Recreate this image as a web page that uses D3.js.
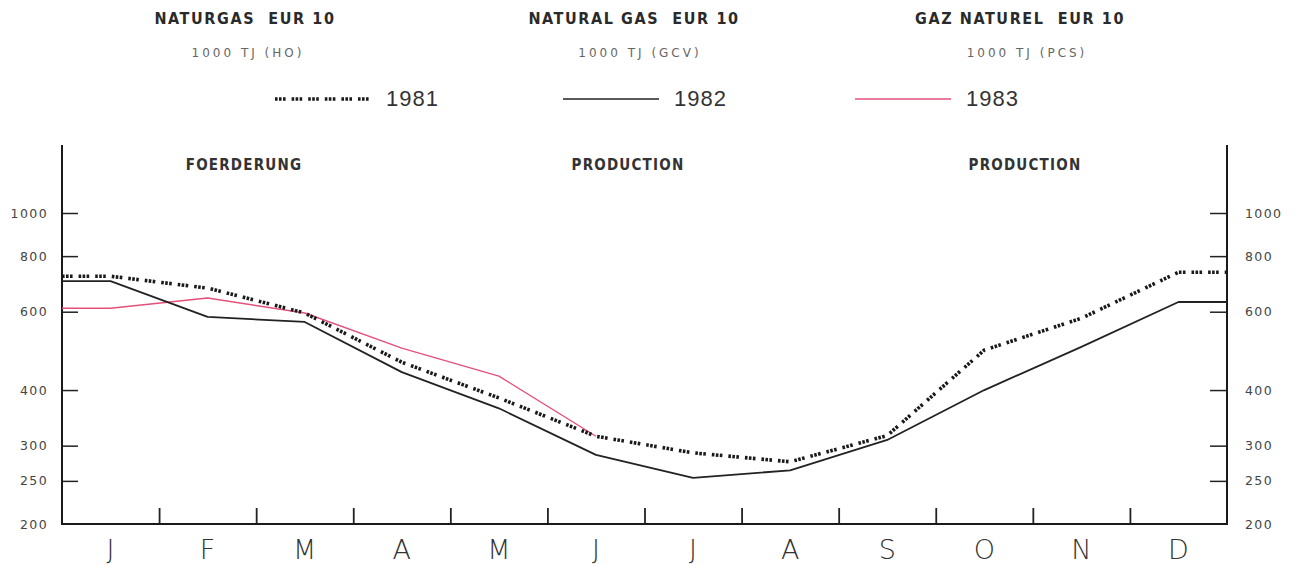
<!DOCTYPE html>
<html><head><meta charset="utf-8">
<script src="https://cdn.jsdelivr.net/npm/d3@7"></script>
<style>
body{margin:0;background:#fff;}
svg{display:block;}
</style></head><body>
<svg id="chart" width="1293" height="564"></svg>
<script>
const months = ["J","F","M","A","M","J","J","A","S","O","N","D"];
const yTicks = [200,250,300,400,600,800,1000];
const years = ["1981","1982","1983"];
const values1981 = [721,678,596,462,384,315,289,276,316,492,580,736];
const values1982 = [703,584,569,439,364,286,254,264,309,400,500,631];
const values1983 = [611,644,596,497,430,315];
const titles = ["NATURGAS  EUR 10","NATURAL GAS  EUR 10","GAZ NATUREL  EUR 10"];
const units = ["1000 TJ (HO)","1000 TJ (GCV)","1000 TJ (PCS)"];
const sections = ["FOERDERUNG","PRODUCTION","PRODUCTION"];

(function(){
const svg = d3.select("#chart");
const mLeft = 62, mRight = 1227, mBottom = 524, mTop = 145;
const x = d3.scaleLinear().domain([0,12]).range([mLeft,mRight]);
const y = d3.scaleLog().domain([200,1000]).range([mBottom,213]);

const condensed = "'Liberation Sans Narrow','DejaVu Sans Condensed',sans-serif";

// titles
const titleX = [245,634,1020];
titles.forEach((t,i)=>{
  svg.append("text").attr("x",titleX[i]).attr("y",24).attr("text-anchor","middle")
    .attr("font-family",condensed).attr("font-weight","bold").attr("font-size",16)
    .attr("letter-spacing",1.6)
    .attr("fill","#2a2a2a").style("white-space","pre").text(t);
});
const unitX = [248,640,1027];
units.forEach((t,i)=>{
  svg.append("text").attr("x",unitX[i]).attr("y",57).attr("text-anchor","middle")
    .attr("font-family","'DejaVu Sans',sans-serif").attr("font-size",12)
    .attr("letter-spacing",3).attr("fill","#666").text(t);
});
const secX = [244,628,1025];
sections.forEach((t,i)=>{
  svg.append("text").attr("x",secX[i]).attr("y",170).attr("text-anchor","middle")
    .attr("font-family",condensed).attr("font-size",15).attr("font-weight","bold")
    .attr("letter-spacing",1.2)
    .attr("fill","#333").text(t);
});

// styles
const styles = {
  "1981":{stroke:"#1a1a1a",width:3.6,dash:"2.6,1.4,2.6,1.4,2.6,6"},
  "1982":{stroke:"#222",width:1.8,dash:null},
  "1983":{stroke:"#e4507a",width:1.4,dash:null}
};

// legend
const legX = [275,563,855];
years.forEach((yr,i)=>{
  const s = styles[yr];
  svg.append("line").attr("x1",legX[i]).attr("x2",legX[i]+96).attr("y1",99).attr("y2",99)
    .attr("stroke",s.stroke).attr("stroke-width",i===0?3.6:1.5)
    .attr("stroke-dasharray",s.dash);
  svg.append("text").attr("x",legX[i]+111).attr("y",106)
    .attr("font-family","'Liberation Sans',sans-serif").attr("font-size",22)
    .attr("letter-spacing",1).attr("fill","#333").text(yr);
});

// axes
const axisL = d3.axisLeft(y).tickValues(yTicks).tickFormat(d3.format("d"))
  .tickSizeInner(-16).tickSizeOuter(0).tickPadding(14);
const gL = svg.append("g").attr("transform",`translate(${mLeft},0)`).call(axisL);
const axisR = d3.axisRight(y).tickValues(yTicks).tickFormat(d3.format("d"))
  .tickSizeInner(-17).tickSizeOuter(0).tickPadding(18);
const gR = svg.append("g").attr("transform",`translate(${mRight},0)`).call(axisR);
[gL,gR].forEach(g=>{
  g.select(".domain").remove();
  g.selectAll("line").attr("stroke","#222").attr("stroke-width",1.5);
  g.selectAll("text").attr("font-family","'DejaVu Sans',sans-serif")
    .attr("font-size",12.5).attr("letter-spacing",1.4).attr("fill","#444");
});
gL.selectAll(".tick").filter(d=>d===200).select("line").remove();
gR.selectAll(".tick").filter(d=>d===200).select("line").remove();

const axisB = d3.axisBottom(x).tickValues(d3.range(1,12)).tickFormat("")
  .tickSizeInner(-16).tickSizeOuter(0);
const gB = svg.append("g").attr("transform",`translate(0,${mBottom})`).call(axisB);
gB.select(".domain").remove();
gB.selectAll("line").attr("stroke","#222").attr("stroke-width",1.8);

// axis frame lines
svg.append("path")
  .attr("d",`M${mLeft},${mTop}V${mBottom}H${mRight}V${mTop}`)
  .attr("fill","none").attr("stroke","#1a1a1a").attr("stroke-width",2);

// month labels
svg.append("g").selectAll("text").data(months).join("text")
  .attr("x",(d,i)=>x(i+0.5)).attr("y",559).attr("text-anchor","middle")
  .attr("font-family","'DejaVu Sans',sans-serif").attr("font-size",27)
  .attr("font-weight","300").attr("fill","#333").text(d=>d);

// series lines
const line = d3.line().x(d=>x(d[0])).y(d=>y(d[1]));
function pts(vals, extendRight){
  const p = vals.map((v,i)=>[i+0.5,v]);
  p.unshift([0,vals[0]]);
  if(extendRight) p.push([12,vals[vals.length-1]]);
  return p;
}
const series = [["1983",values1983,false],["1982",values1982,true],["1981",values1981,true]];
series.forEach(([yr,vals,ext])=>{
  const s = styles[yr];
  svg.append("path").datum(pts(vals,ext)).attr("d",line)
    .attr("fill","none").attr("stroke",s.stroke).attr("stroke-width",s.width)
    .attr("stroke-dasharray",s.dash).attr("stroke-linejoin","round");
});
})();
</script>
</body></html>
